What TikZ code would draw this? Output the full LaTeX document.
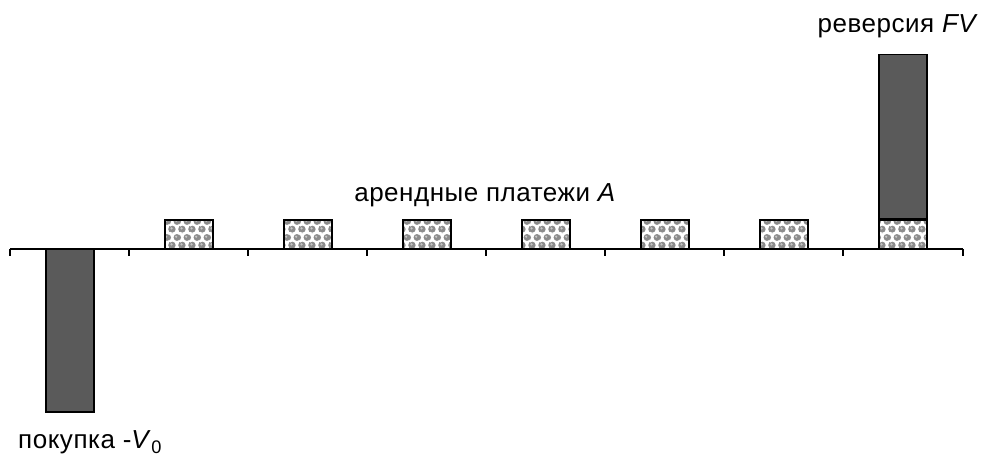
\documentclass[tikz,border=0pt]{standalone}
\usepackage{fontspec}
\setmainfont{Liberation Sans}
\usetikzlibrary{patterns, positioning}

\pgfdeclarepatterninherentlycolored{coins}{\pgfpointorigin}{\pgfpoint{10pt}{16pt}}{\pgfpoint{10pt}{16pt}}{%
    \pgfsetfillcolor{white}
    \pgfpathrectangle{\pgfpointorigin}{\pgfpoint{10pt}{16pt}}
    \pgfusepath{fill}
    \pgfsetfillcolor{black!45}
    \pgfpathcircle{\pgfpoint{2.5pt}{4pt}}{3.6pt}
    \pgfpathcircle{\pgfpoint{7.5pt}{12pt}}{3.6pt}
    \pgfpathcircle{\pgfpoint{7.5pt}{-4pt}}{3.6pt}
    \pgfpathcircle{\pgfpoint{-2.5pt}{12pt}}{3.6pt}
    \pgfpathcircle{\pgfpoint{12.5pt}{4pt}}{3.6pt}
    \pgfpathcircle{\pgfpoint{2.5pt}{20pt}}{3.6pt}
    \pgfusepath{fill}
    \pgfsetfillcolor{black!22}
    \pgfpathcircle{\pgfpoint{1.7pt}{4.8pt}}{1.3pt}
    \pgfpathcircle{\pgfpoint{6.7pt}{12.8pt}}{1.3pt}
    \pgfusepath{fill}
}

\definecolor{bardark}{HTML}{5A5A5A}

\tikzset{
    bar/.style={draw, line width=1.3pt, fill=bardark, minimum width=48pt, inner sep=0pt},
    rent/.style={draw, line width=1.3pt, pattern=coins, minimum width=48pt, minimum height=29pt, inner sep=0pt},
    lbl/.style={font=\fontsize{26}{30}\selectfont\addfontfeature{LetterSpace=2}, inner sep=0pt}
}

\begin{document}
\begin{tikzpicture}[x=1pt, y=1pt]
    \useasboundingbox (0, 0) rectangle (983, 457);

    % axis and ticks
    \draw[line width=1.3pt] (10, 208) -- (963, 208);
    \draw[line width=1.3pt] (10, 208) -- (10, 201);
    \draw[line width=1.3pt] (129, 208) -- (129, 201);
    \draw[line width=1.3pt] (248, 208) -- (248, 201);
    \draw[line width=1.3pt] (367, 208) -- (367, 201);
    \draw[line width=1.3pt] (486, 208) -- (486, 201);
    \draw[line width=1.3pt] (605, 208) -- (605, 201);
    \draw[line width=1.3pt] (724, 208) -- (724, 201);
    \draw[line width=1.3pt] (843, 208) -- (843, 201);
    \draw[line width=1.3pt] (963, 208) -- (963, 201);

    % purchase
    \node[bar, minimum height=163pt] (buy) at (70, 126.5) {};

    % rent payments
    \node[rent] (A1) at (189, 222.5) {};
    \node[rent] (A2) at (308, 222.5) {};
    \node[rent] (A3) at (427, 222.5) {};
    \node[rent] (A4) at (546, 222.5) {};
    \node[rent] (A5) at (665, 222.5) {};
    \node[rent] (A6) at (784, 222.5) {};
    \node[rent] (A7) at (903, 222.5) {};

    % reversion
    \node[bar, minimum height=164pt, anchor=south] (rev) at (A7.north) {};

    \node[lbl, anchor=base] (rentlbl) at (485, 255) {арендные платежи \textit{A}};
    \node[lbl, anchor=base] (revlbl) at (898, 424) {реверсия \textit{FV}};
    \node[lbl, anchor=base west] (buylbl) at (18, 8) {покупка -\textit{V}\textsubscript{0}};
\end{tikzpicture}
\end{document}
